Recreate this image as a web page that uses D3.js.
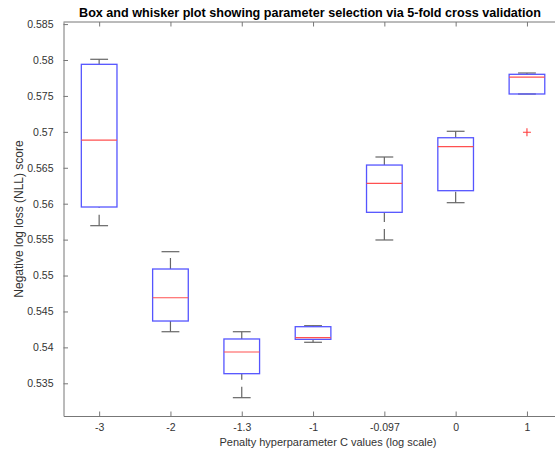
<!DOCTYPE html>
<html>
<head>
<meta charset="utf-8">
<script src="https://cdn.jsdelivr.net/npm/d3@7"></script>
<style>
  html, body { margin: 0; padding: 0; background: #fff; }
  svg { display: block; font-family: "Liberation Sans", Arial, Helvetica, sans-serif; }
</style>
</head>
<body>
<svg id="chart" width="555" height="453"></svg>
<script>
// Cross-validation NLL scores per penalty value (log10 C)
const categories = ["-3", "-2", "-1.3", "-1", "-0.097", "0", "1"];
const lowerWhisker = [0.55694, 0.54218, 0.53300, 0.54071, 0.55495, 0.56014, 0.57527];
const q1Values     = [0.55954, 0.54367, 0.53634, 0.54112, 0.55880, 0.56181, 0.57527];
const medianValues = [0.56886, 0.54691, 0.53936, 0.54135, 0.56284, 0.56793, 0.57763];
const q3Values     = [0.57940, 0.55091, 0.54117, 0.54288, 0.56538, 0.56918, 0.57801];
const upperWhisker = [0.58010, 0.55332, 0.54218, 0.54302, 0.56650, 0.57008, 0.57819];
const outlierValues = [[], [], [], [], [], [], [0.56994]];
const yTickValues = [0.535, 0.54, 0.545, 0.55, 0.555, 0.56, 0.565, 0.57, 0.575, 0.58, 0.585];
const yTickLabels = ["0.535", "0.54", "0.545", "0.55", "0.555", "0.56", "0.565", "0.57", "0.575", "0.58", "0.585"];
const yLimits = [0.53045, 0.58529];

const svg = d3.select("#chart");
const plotLeft = 63.5, plotRight = 562.6, plotTop = 22, plotBottom = 416;
const axisColor = "#777";

const x = d3.scaleLinear().domain([0.5, categories.length + 0.5]).range([plotLeft, plotRight]);
const y = d3.scaleLinear().domain(yLimits).range([plotBottom, plotTop]);
const boxHalf = x(1.25) - x(1);    // box width 0.5 units
const capHalf = x(1.125) - x(1);   // cap width 0.25 units

const data = categories.map((c, i) => ({
  i: i + 1, c,
  lo: lowerWhisker[i], q1: q1Values[i], med: medianValues[i],
  q3: q3Values[i], hi: upperWhisker[i], out: outlierValues[i]
}));

// Axes frame (top edge + ticks)
svg.append("line")
  .attr("x1", plotLeft).attr("x2", plotRight).attr("y1", plotTop).attr("y2", plotTop)
  .attr("stroke", axisColor).attr("stroke-width", 1);

const xAxis = d3.axisBottom(x)
  .tickValues(data.map(d => d.i))
  .tickFormat((d, i) => categories[i])
  .tickSizeInner(-4.5).tickSizeOuter(0).tickPadding(8);
const gx = svg.append("g").attr("transform", `translate(0,${plotBottom})`).call(xAxis);

const xTop = d3.axisTop(x).tickValues(data.map(d => d.i)).tickFormat("")
  .tickSizeInner(-4.5).tickSizeOuter(0);
const gxt = svg.append("g").attr("transform", `translate(0,${plotTop})`).call(xTop);
gxt.select(".domain").remove();

const yAxis = d3.axisLeft(y)
  .tickValues(yTickValues)
  .tickFormat((d, i) => yTickLabels[i])
  .tickSizeInner(-4.5).tickSizeOuter(0).tickPadding(10);
const gy = svg.append("g").attr("transform", `translate(${plotLeft},0)`).call(yAxis);

[gx, gxt, gy].forEach(g => {
  g.select(".domain").attr("stroke", axisColor).attr("stroke-width", 1);
  g.selectAll(".tick line").attr("stroke", axisColor).attr("stroke-width", 1);
  g.selectAll(".tick text").attr("fill", "#333")
    .style("font-size", "10.5px").style("font-family", "'Liberation Sans', Arial, sans-serif");
});

// Boxes
const boxes = svg.append("g");
const g = boxes.selectAll("g.box").data(data).join("g").attr("class", "box");

// dashed whiskers, dash pattern starting at the lower end
g.append("line")
  .attr("x1", d => x(d.i)).attr("x2", d => x(d.i))
  .attr("y1", d => y(d.q3)).attr("y2", d => y(d.hi))
  .attr("stroke", "#666").attr("stroke-width", 1.2).attr("stroke-dasharray", "11,7");
g.append("line")
  .attr("x1", d => x(d.i)).attr("x2", d => x(d.i))
  .attr("y1", d => y(d.lo)).attr("y2", d => y(d.q1))
  .attr("stroke", "#666").attr("stroke-width", 1.2).attr("stroke-dasharray", "11,7");

// whisker caps
["hi", "lo"].forEach(k => {
  g.append("line")
    .attr("x1", d => x(d.i) - capHalf).attr("x2", d => x(d.i) + capHalf)
    .attr("y1", d => y(d[k])).attr("y2", d => y(d[k]))
    .attr("stroke", "#666").attr("stroke-width", 1.2);
});

g.append("rect")
  .attr("x", d => x(d.i) - boxHalf).attr("width", boxHalf * 2)
  .attr("y", d => y(d.q3)).attr("height", d => y(d.q1) - y(d.q3))
  .attr("fill", "none").attr("stroke", "rgb(85,85,255)").attr("stroke-width", 1.3);

g.append("line")
  .attr("x1", d => x(d.i) - boxHalf).attr("x2", d => x(d.i) + boxHalf)
  .attr("y1", d => y(d.med)).attr("y2", d => y(d.med))
  .attr("stroke", "rgb(255,80,80)").attr("stroke-width", 1.2);

// outliers as red plus markers
const outs = data.flatMap(d => d.out.map(v => ({ i: d.i, v })));
svg.append("g").selectAll("path").data(outs).join("path")
  .attr("d", d => {
    const cx = x(d.i), cy = y(d.v), r = 4;
    return `M${cx - r},${cy}H${cx + r}M${cx},${cy - r}V${cy + r}`;
  })
  .attr("stroke", "rgb(255,60,60)").attr("stroke-width", 1.1).attr("fill", "none");

// Titles
svg.append("text")
  .attr("x", 310).attr("y", 17).attr("text-anchor", "middle")
  .style("font-size", "12.6px").style("font-weight", "bold").attr("fill", "#000")
  .text("Box and whisker plot showing parameter selection via 5-fold cross validation");

svg.append("text")
  .attr("x", 328).attr("y", 446).attr("text-anchor", "middle")
  .style("font-size", "11px").attr("fill", "#333")
  .text("Penalty hyperparameter C values (log scale)");

svg.append("text")
  .attr("transform", `translate(23,${(plotTop + plotBottom) / 2}) rotate(-90)`)
  .attr("text-anchor", "middle")
  .style("font-size", "12px").attr("fill", "#333")
  .text("Negative log loss (NLL) score");
</script>
</body>
</html>
